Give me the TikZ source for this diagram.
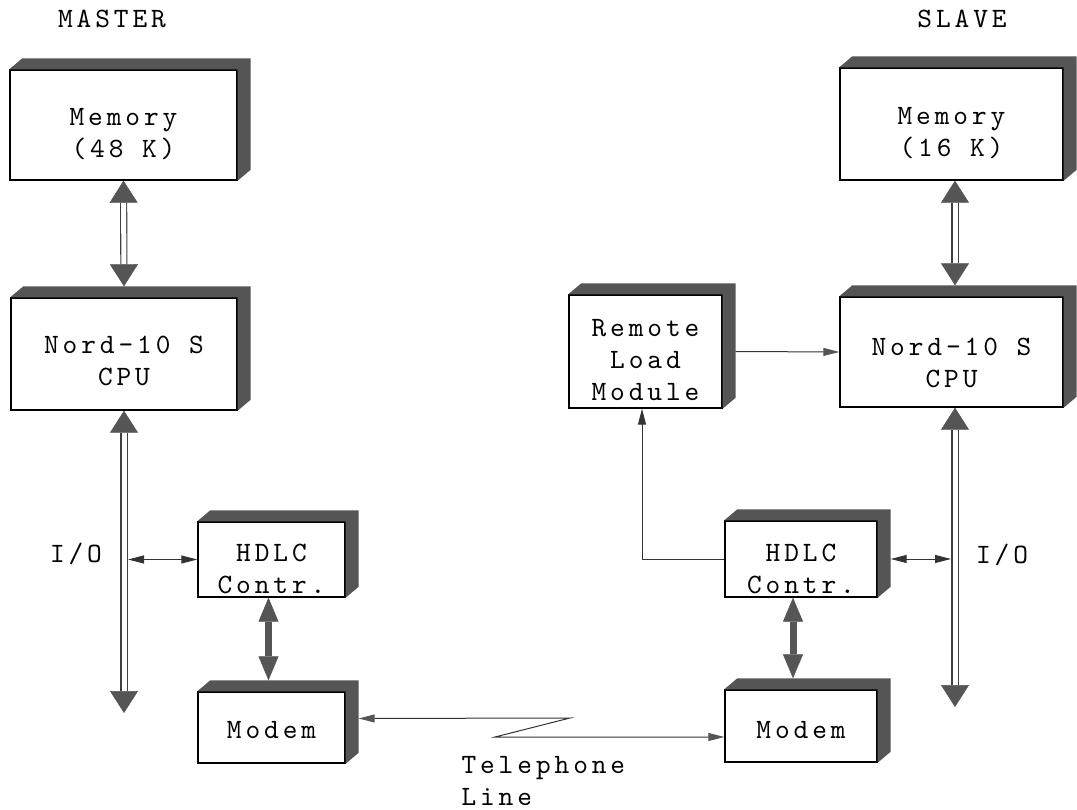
\documentclass[tikz,border=0pt]{standalone}
\usepackage{fontspec}
\newfontfamily\typer{lmmono10-regular.otf}[LetterSpace=14]
\usetikzlibrary{arrows.meta}
\definecolor{shadegray}{RGB}{85,85,85}
\tikzset{
  unit/.style={draw=black, line width=1.4pt, fill=white, inner sep=0pt, align=center,
    text depth=0pt, text height=#1},
  biline/.style={double=white, double distance=5pt, line width=1.1pt, draw=black!75,
    {Triangle[length=22pt,width=28pt,color=shadegray,line width=0.5pt]}-{Triangle[length=22pt,width=28pt,color=shadegray,line width=0.5pt]}},
  fatbi/.style={line width=7pt, draw=shadegray,
    {Triangle[length=24pt,width=20pt,line width=0.5pt]}-{Triangle[length=24pt,width=20pt,line width=0.5pt]}},
  thinbi/.style={line width=1pt, draw=black!80,
    {Triangle[length=16pt,width=8pt]}-{Triangle[length=16pt,width=8pt]}},
  thinarr/.style={line width=1pt, draw=black!80, -{Triangle[length=16pt,width=8pt]}},
  tel/.style={line width=1pt, draw=black!80,
    {Triangle[length=16pt,width=8pt,color=shadegray]}-{Triangle[length=16pt,width=8pt,color=shadegray]}}
}
\begin{document}
\begin{tikzpicture}[x=1pt,y=-1pt,font=\fontsize{28}{32}\selectfont\typer]
\useasboundingbox (0,0) rectangle (1077,810);

% master side
\node[anchor=base] (master) at (112,28) {MASTER};
\node[unit=66pt, minimum width=227, minimum height=110] (mmem) at (123.5,125) {Memory\\(48 K)};
\node[unit=62pt, minimum width=226, minimum height=112] (mcpu) at (124,354) {Nord-10 S\\CPU};
\node[unit=67pt, minimum width=147, minimum height=75] (mhdlc) at (271.5,559.5) {HDLC\\Contr.};
\node[unit=21pt, minimum width=147, minimum height=71] (mmod) at (271.5,727.5) {Modem};
\node[anchor=base] (mio) at (76,562) {I/O};

% slave side
\node[anchor=base] (slave) at (962,28) {SLAVE};
\node[unit=66pt, minimum width=223, minimum height=112] (smem) at (951.5,124) {Memory\\(16 K)};
\node[unit=72pt, minimum width=223, minimum height=110] (scpu) at (951.5,352) {Nord-10 S\\CPU};
\node[unit=97pt, minimum width=153, minimum height=113] (rlm) at (645.5,351.5) {Remote\\Load\\Module};
\node[unit=68pt, minimum width=152, minimum height=76] (shdlc) at (801,559) {HDLC\\Contr.};
\node[unit=24pt, minimum width=152, minimum height=72] (smod) at (801,726) {Modem};
\node[anchor=base] (sio) at (1002,563) {I/O};

\node[anchor=north west, align=left] (telline) at (458,753) {Telephone\\Line};

% 3d look
\foreach \b in {mmem,mcpu,mhdlc,mmod,smem,scpu,rlm,shdlc,smod}
  \fill[shadegray] (\b.north west) -- ++(13pt,11pt) -- ([shift={(13pt,11pt)}]\b.north east)
    -- ([shift={(13pt,11pt)}]\b.south east) -- (\b.south east) -- (\b.north east) -- cycle;

\coordinate (mbus) at (124,713);
\coordinate (sbus) at (955,707);
\coordinate (zigA) at (570,718);
\coordinate (zigB) at (495,737);

% buses
\draw[biline] (mmem.south) -- ([yshift=11pt]mcpu.north);
\draw[biline] (mcpu.south) -- (mbus);
\draw[biline] ([xshift=3.5pt]smem.south) -- ([shift={(3.5pt,11pt)}]scpu.north);
\draw[biline] (scpu.south -| sbus) -- (sbus);

\draw[thinbi] ([xshift=4pt]mhdlc.west -| mbus) -- (mhdlc.west);
\draw[thinbi] ([xshift=13pt]shdlc.east) -- ([xshift=-4pt]shdlc.east -| sbus);

\draw[fatbi] ([xshift=-3pt]mhdlc.south) -- ([shift={(-3pt,11pt)}]mmod.north);
\draw[fatbi] ([xshift=-8pt]shdlc.south) -- ([shift={(-8pt,11pt)}]smod.north);

\draw[thinarr, -{Triangle[length=16pt,width=8pt,color=shadegray]}] ([xshift=13pt]rlm.east) -- (scpu.west);
\draw[thinarr] (shdlc.west) -| ([xshift=-3.5pt]rlm.south);

% telephone line
\draw[tel] ([shift={(13pt,9pt)}]mmod.east) -- (zigA) -- (zigB) -- ([yshift=-11pt]smod.west);
\end{tikzpicture}
\end{document}
